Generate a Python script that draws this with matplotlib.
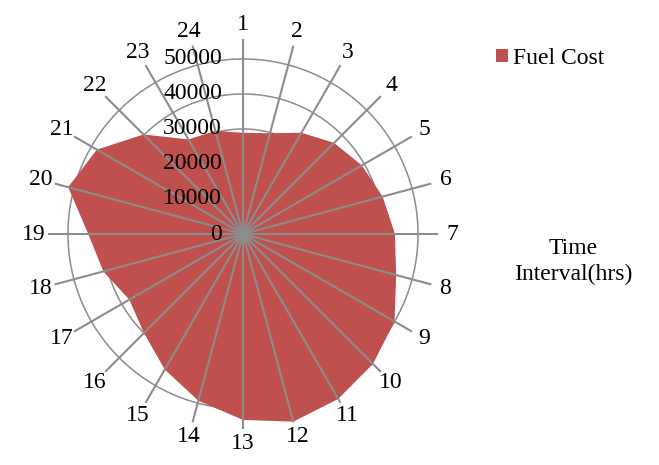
import matplotlib.pyplot as plt
import numpy as np

# Fuel cost per hourly time interval (24 intervals)
hours = [str(h) for h in range(1, 25)]
fuel_cost = [28900, 29800, 33400, 36800, 39200, 41300, 43400, 45300,
             50000, 52500, 54400, 55500, 53100, 49300, 44700, 40000,
             37500, 41300, 44200, 51700, 48200, 40200, 31200, 30500]
rings = [10000, 20000, 30000, 40000, 50000]
ring_labels = ['0', '10000', '20000', '30000', '40000', '50000']
r_max = 55700

plt.rcParams['font.family'] = ['Liberation Serif', 'DejaVu Serif']
fs = 17

fig = plt.figure(figsize=(6.59, 4.65), dpi=100)
ax = fig.add_axes([48 / 659, 36 / 465, 390 / 659, 390 / 465], projection='polar')
ax.set_theta_zero_location('N')
ax.set_theta_direction(-1)

angles = np.arange(len(hours)) * 2 * np.pi / len(hours)
circ = np.linspace(0, 2 * np.pi, 361)

grid_col = '#8c8c8c'
# rings under the fill
for v in rings:
    ax.plot(circ, [v] * len(circ), color=grid_col, lw=1.1, zorder=1)

ax.fill(angles, fuel_cost, color='#c0504d', lw=0, zorder=2, label='Fuel Cost')

# spokes on top of the fill
for a in angles:
    ax.plot([a, a], [0, r_max], color=grid_col, lw=1.5, zorder=3)

ax.set_ylim(0, r_max)
ax.grid(False)
ax.set_xticks([])
ax.set_yticks([])
ax.spines['polar'].set_visible(False)

# category labels around the outside
for a, lab in zip(angles, hours):
    ax.text(a, r_max * 1.075, lab, ha='center', va='center', fontsize=fs, zorder=4)

# value axis labels left of the top spoke
for v, lab in zip([0] + rings, ring_labels):
    ax.annotate(lab, xy=(0, v), xytext=(-21, 0), textcoords='offset pixels',
                ha='right', va='center', fontsize=fs, zorder=4)

fig.legend(loc='upper left', bbox_to_anchor=(496 / 659, 1 - 48 / 465), frameon=False,
           fontsize=fs, handlelength=0.5, handleheight=0.5, handletextpad=0.2,
           borderpad=0, borderaxespad=0)

fig.text(573 / 659, 1 - 262 / 465, 'Time\nInterval(hrs)', ha='center', va='center',
         fontsize=fs, linespacing=1.3)

fig.savefig('out.png', dpi=100)
